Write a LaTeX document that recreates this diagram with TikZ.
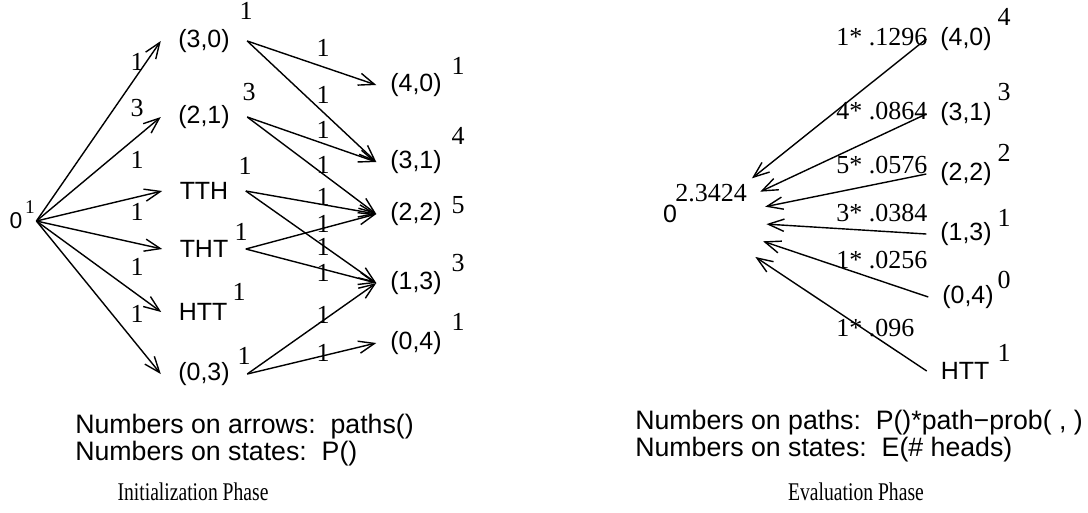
\documentclass[tikz,border=0pt]{standalone}
\usepackage{fontspec}
\setmainfont{Liberation Serif}
\setsansfont{Liberation Sans}
\usetikzlibrary{arrows.meta,positioning}
\tikzset{
  stnode/.style={font=\sffamily\fontsize{14.2}{16}\selectfont, inner sep=0pt, outer sep=8pt},
  midnode/.style={stnode, outer sep=10pt},
  expo/.style={font=\fontsize{14.8}{16}\selectfont, inner sep=0pt},
  num/.style={font=\fontsize{14.8}{16}\selectfont, inner sep=0pt},
  arrow/.style={-{Straight Barb[length=9pt,width=7pt]}, line width=0.8pt},
  notes/.style={font=\sffamily\fontsize{15.2}{12.5}\selectfont, align=left,
                inner sep=0pt, anchor=north west},
  phase/.style={font=\fontsize{14.5}{16}\selectfont, inner sep=0pt}
}

\begin{document}
\begin{tikzpicture}[x=0.02cm, y=-0.02cm]
  \useasboundingbox (0,0) rectangle (1088,512);

  % initialization phase
  \node[stnode, font=\sffamily\fontsize{13}{15}\selectfont] (o0) at (16,221) {0};
  \node[expo, font=\fontsize{11}{12}\selectfont] (o0s) at (30,207) {1};

  \node[midnode] (m30) at (204,41) {(3,0)};
  \node[midnode] (m21) at (204,117) {(2,1)};
  \node[midnode] (tth) at (204,191) {TTH};
  \node[midnode] (tht) at (204,249) {THT};
  \node[midnode] (htt) at (203,312) {HTT};
  \node[midnode] (m03) at (204,374) {(0,3)};
  \node[expo] (m30s) at (246,11) {1};
  \node[expo] (m21s) at (249,92) {3};
  \node[expo] (tths) at (245,166) {1};
  \node[expo] (thts) at (241,232) {1};
  \node[expo] (htts) at (239,292) {1};
  \node[expo] (m03s) at (244,356) {1};

  \node[stnode] (r40) at (416,85) {(4,0)};
  \node[stnode] (r31) at (416,162) {(3,1)};
  \node[stnode] (r22) at (416,214) {(2,2)};
  \node[stnode] (r13) at (416,283) {(1,3)};
  \node[stnode] (r04) at (416,343) {(0,4)};
  \node[expo] (r40s) at (458,66) {1};
  \node[expo] (r31s) at (458,136) {4};
  \node[expo] (r22s) at (458,205) {5};
  \node[expo] (r13s) at (458,263) {3};
  \node[expo] (r04s) at (458,322) {1};

  \draw[arrow] (o0.east) -- (m30.west);
  \draw[arrow] (o0.east) -- (m21.west);
  \draw[arrow] (o0.east) -- (tth.west);
  \draw[arrow] (o0.east) -- (tht.west);
  \draw[arrow] (o0.east) -- (htt.west);
  \draw[arrow] (o0.east) -- (m03.west);
  \node[num] (a1) at (137,62) {1};
  \node[num] (a2) at (137,108) {3};
  \node[num] (a3) at (137,160) {1};
  \node[num] (a4) at (137,212) {1};
  \node[num] (a5) at (137,267) {1};
  \node[num] (a6) at (137,314) {1};

  \draw[arrow] (m30.east) -- (r40.west);
  \draw[arrow] (m30.east) -- (r31.west);
  \draw[arrow] (m21.east) -- (r31.west);
  \draw[arrow] (m21.east) -- (r22.west);
  \draw[arrow] (tth.east) -- (r22.west);
  \draw[arrow] (tth.east) -- (r13.west);
  \draw[arrow] (tht.east) -- (r22.west);
  \draw[arrow] (tht.east) -- (r13.west);
  \draw[arrow] (m03.east) -- (r13.west);
  \draw[arrow] (m03.east) -- (r04.west);
  \node[num] (b1) at (323,48) {1};
  \node[num] (b2) at (323,95) {1};
  \node[num] (b3) at (323,130) {1};
  \node[num] (b4) at (323,165) {1};
  \node[num] (b5) at (323,197) {1};
  \node[num] (b6) at (323,224) {1};
  \node[num] (b7) at (323,247) {1};
  \node[num] (b8) at (323,273) {1};
  \node[num] (b9) at (323,315) {1};
  \node[num] (b10) at (323,353) {1};

  \node[notes] (inote) at (75,414) {Numbers on arrows:\ \ paths()\\Numbers on states:\ \ P()};
  \node[phase] (iphase) at (193,492) {\scalebox{0.77}[1]{Initialization Phase}};

  % evaluation phase
  \node[stnode] (e0) at (670,214) {0};
  \node[expo] (e0s) at (711,193) {2.3424};
  \coordinate (hub) at ([xshift=5pt, yshift=-3.4pt]e0.east);

  \node[stnode] (e40) at (966,39) {(4,0)};
  \node[stnode] (e31) at (966,114) {(3,1)};
  \node[stnode] (e22) at (966,174) {(2,2)};
  \node[stnode] (e13) at (966,234) {(1,3)};
  \node[stnode] (e04) at (968,297) {(0,4)};
  \node[stnode] (ehtt) at (965,371) {HTT};
  \node[expo] (e40s) at (1004,17) {4};
  \node[expo] (e31s) at (1004,92) {3};
  \node[expo] (e22s) at (1004,153) {2};
  \node[expo] (e13s) at (1004,218) {1};
  \node[expo] (e04s) at (1004,280) {0};
  \node[expo] (ehtts) at (1004,353) {1};

  \draw[arrow, shorten >=38pt] (e40.west) -- (hub);
  \draw[arrow, shorten >=38pt] (e31.west) -- (hub);
  \draw[arrow, shorten >=38pt] (e22.west) -- (hub);
  \draw[arrow, shorten >=38pt] (e13.west) -- (hub);
  \draw[arrow, shorten >=38pt] (e04.west) -- (hub);
  \draw[arrow, shorten >=38pt] (ehtt.west) -- (hub);
  \node[num, anchor=west] (p40) at (836,37) {1* .1296};
  \node[num, anchor=west] (p31) at (836,111) {4* .0864};
  \node[num, anchor=west] (p22) at (836,165) {5* .0576};
  \node[num, anchor=west] (p13) at (836,213) {3* .0384};
  \node[num, anchor=west] (p04) at (836,260) {1* .0256};
  \node[num, anchor=west] (phtt) at (836,328) {1* .096};

  \node[notes] (enote) at (635,410) {Numbers on paths:\ \ P()*path−prob( , )\\Numbers on states:\ \ E(\# heads)};
  \node[phase] (ephase) at (856,492) {\scalebox{0.77}[1]{Evaluation Phase}};
\end{tikzpicture}
\end{document}
